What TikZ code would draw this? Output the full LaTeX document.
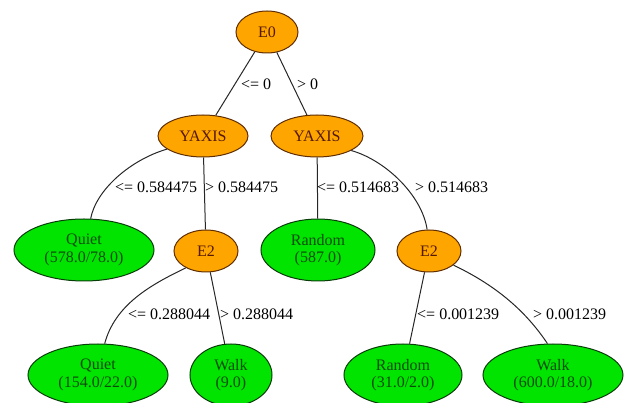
\documentclass[tikz,border=0pt]{standalone}
\usepackage{fontspec}
\setmainfont{Liberation Serif}
\usepackage{tikz}
\usetikzlibrary{shapes.geometric}
\usetikzlibrary{positioning}

\definecolor{splitfill}{RGB}{255,165,0}
\definecolor{splitline}{RGB}{95,45,0}
\definecolor{splittext}{RGB}{85,25,0}
\definecolor{leaffill}{RGB}{0,228,0}
\definecolor{leafline}{RGB}{10,60,10}
\definecolor{leaftext}{RGB}{10,75,10}

\begin{document}
\begin{tikzpicture}[x=1pt,y=-1pt,
		font=\fontsize{16}{17.5}\selectfont,
		split/.style={ellipse, draw=splitline, fill=splitfill, text=splittext, line width=1pt, inner sep=0pt, minimum height=42pt},
		leaf/.style={ellipse, draw=leafline, fill=leaffill, text=leaftext, line width=1pt, inner sep=0pt, minimum height=62pt, align=center},
		cond/.style={anchor=west, inner sep=0pt},
		edge/.style={draw=black!85, line width=1pt}]
		\useasboundingbox (0,0) rectangle (625,403);
		
		\node[split, minimum width=62pt] (e0) at (267, 32) {E0};
		
		\node[split, minimum width=90pt] (yaxis1) at (203, 136) {YAXIS};
		\node[split, minimum width=92pt] (yaxis2) at (317, 136) {YAXIS};
		
		\node[leaf, minimum width=140pt] (quiet1) at (84, 250) {Quiet\\(578.0/78.0)};
		\node[split, minimum width=64pt] (e2a) at (206, 251) {E2};
		\node[leaf, minimum width=114pt] (random1) at (318, 250) {Random\\(587.0)};
		\node[split, minimum width=64pt] (e2b) at (429, 251) {E2};
		
		\node[leaf, minimum width=140pt] (quiet2) at (98, 375) {Quiet\\(154.0/22.0)};
		\node[leaf, minimum width=82pt] (walk1) at (231, 375) {Walk\\(9.0)};
		\node[leaf, minimum width=118pt] (random2) at (403, 375) {Random\\(31.0/2.0)};
		\node[leaf, minimum width=140pt] (walk2) at (553, 375) {Walk\\(600.0/18.0)};
		
		% edges from the root
		\draw[edge] (e0) -- (yaxis1);
		\draw[edge] (e0) -- (yaxis2);
		\node[cond] (c1) at (241, 84) {<= 0};
		\node[cond] (c2) at (297, 84) {> 0};
		
		% second level
		\draw[edge] (yaxis1.200) .. controls (130,160) and (96,190) .. (quiet1.78);
		\draw[edge] (yaxis1) -- (e2a);
		\draw[edge] (yaxis2) -- (random1);
		\draw[edge] (yaxis2.-23) .. controls (385,160) and (422,195) .. (e2b.95);
		\node[cond] (c3) at (115, 187) {<= 0.584475};
		\node[cond] (c4) at (205, 187) {> 0.584475};
		\node[cond] (c5) at (317, 187) {<= 0.514683};
		\node[cond] (c6) at (415, 187) {> 0.514683};
		
		% third level
		\draw[edge] (e2a.-140) .. controls (150,285) and (115,305) .. (quiet2.78);
		\draw[edge] (e2a) -- (walk1);
		\draw[edge] (e2b) -- (random2);
		\draw[edge] (e2b.-30) .. controls (495,285) and (525,310) .. (walk2.100);
		\node[cond] (c7) at (128, 314) {<= 0.288044};
		\node[cond] (c8) at (220, 314) {> 0.288044};
		\node[cond] (c9) at (417, 314) {<= 0.001239};
		\node[cond] (c10) at (533, 314) {> 0.001239};
\end{tikzpicture}
\end{document}
